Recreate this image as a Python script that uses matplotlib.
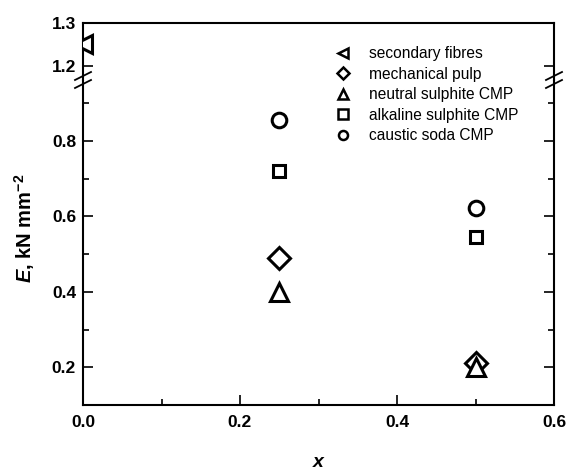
import matplotlib
matplotlib.use("Agg")
import matplotlib.pyplot as plt
from matplotlib.lines import Line2D

plt.rcParams['font.family'] = ['Liberation Sans', 'DejaVu Sans']
plt.rcParams['mathtext.fontset'] = 'custom'
plt.rcParams['mathtext.rm'] = 'Liberation Sans:bold'
plt.rcParams['mathtext.it'] = 'Liberation Sans:bold:italic'
plt.rcParams['mathtext.bf'] = 'Liberation Sans:bold'

series = ["secondary fibres", "mechanical pulp", "neutral sulphite CMP",
          "alkaline sulphite CMP", "caustic soda CMP"]
markers = ["<", "D", "^", "s", "o"]
x_sec = [0.0]
y_sec = [1.25]
x_vals = [0.25, 0.5]
y_mech = [0.49, 0.21]
y_neut = [0.40, 0.20]
y_alk = [0.72, 0.545]
y_caus = [0.855, 0.622]
xticks = [0.0, 0.2, 0.4, 0.6]
yticks_low = [0.2, 0.4, 0.6, 0.8]
yticks_up = [1.2, 1.3]

W, H = 568, 469
fig = plt.figure(figsize=(W / 100, H / 100), dpi=100)
L, R = 83 / W, 554 / W
B, T = 1 - 405 / H, 1 - 23 / H
BRK = 1 - 80 / H
axl = fig.add_axes([L, B, R - L, BRK - B])
axu = fig.add_axes([L, BRK, R - L, T - BRK], sharex=axl)

kw = dict(ls='none', mfc='white', mec='black', mew=2.2, color='black')
sizes = {"<": 13, "D": 11, "^": 13, "s": 8.5, "o": 10.5}
data = [(x_sec, y_sec), (x_vals, y_mech), (x_vals, y_neut), (x_vals, y_alk), (x_vals, y_caus)]
for (xs, ys), m in zip(data, markers):
    for ax in (axl, axu):
        ax.plot(xs, ys, marker=m, ms=sizes[m], zorder=3, clip_on=True, **kw)

axl.set_xlim(0, 0.6)
axl.set_ylim(0.1, 0.961)
axu.set_ylim(1.167, 1.3)

axl.set_xticks(xticks)
axl.set_xticks([0.1, 0.3, 0.5], minor=True)
axl.set_yticks(yticks_low)
axl.set_yticks([0.3, 0.5, 0.7, 0.9], minor=True)
axu.set_yticks(yticks_up)

for ax in (axl, axu):
    ax.tick_params(which='both', direction='in', width=1.2, top=False, right=True,
                   labelsize=12.5)
    ax.tick_params(which='major', length=7)
    ax.tick_params(which='minor', length=4)
    for s in ax.spines.values():
        s.set_linewidth(1.5)
    for lab in ax.get_xticklabels() + ax.get_yticklabels():
        lab.set_fontweight('bold')
axu.spines['bottom'].set_visible(False)
axl.spines['top'].set_visible(False)
axu.tick_params(axis='x', which='both', bottom=False, labelbottom=False)
axl.set_xticklabels(["0.0", "0.2", "0.4", "0.6"], fontweight='bold')
axl.tick_params(axis='x', pad=7)
axl.tick_params(axis='y', pad=5)
axu.tick_params(axis='y', pad=5)

axl.set_xlabel("x", fontsize=14, fontweight='bold', fontstyle='italic', va='center')
axl.xaxis.set_label_coords(0.5, (405 - 462) / 325)
fig.text(25 / W, 1 - 228 / H, r"$\mathit{E}$, kN mm$^{\mathrm{-2}}$", rotation=90,
         fontsize=14.5, fontweight='bold', ha='center', va='center')

# break marks
for xf in (L, R):
    for dy in (-4, 4):
        yc = BRK + dy / H
        fig.add_artist(Line2D([xf - 8 / W, xf + 8 / W], [yc - 4 / H, yc + 4 / H],
                              color='black', lw=1.3, transform=fig.transFigure))

handles = [Line2D([], [], marker=m, ls='none', mfc='white', mec='black', mew=1.8,
                  ms=6.5) for m in markers]
fig.legend(handles, series, loc='upper left', bbox_to_anchor=(335.5 / W, 1 - 46 / H),
           frameon=False, fontsize=11.2, handletextpad=1.15, labelspacing=0.36,
           handlelength=1.0, borderaxespad=0, borderpad=0)

fig.savefig("out.png", dpi=100)
